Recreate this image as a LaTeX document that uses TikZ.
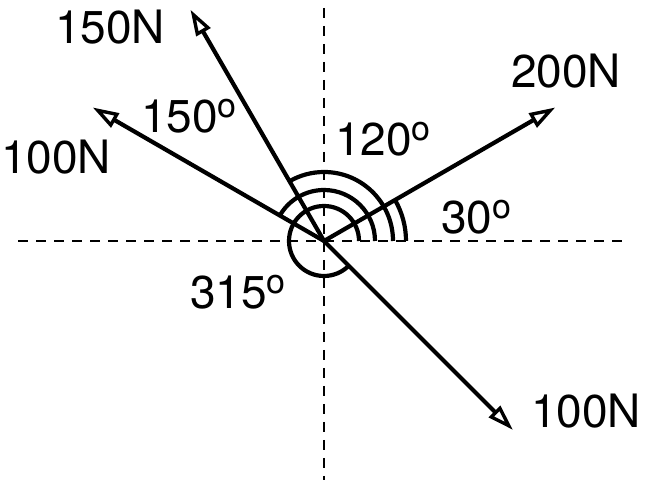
\documentclass[tikz,border=0pt]{standalone}
\usepackage{fontspec}
\setmainfont{TeX Gyre Heros}
\usetikzlibrary{arrows.meta,calc}
\newcommand\dgo{\raisebox{15pt}{\fontsize{34}{34}\selectfont o}}
\tikzset{
  force/.style={line width=4.2pt,-{Triangle[open,fill=white,length=26pt,width=16pt,line width=3.4pt]}},
  anglearc/.style={line width=4.2pt},
  axis/.style={line width=1.3pt,dash pattern=on 10pt off 8pt},
  lbl/.style={anchor=west,inner sep=0pt,font=\fontsize{46}{50}\selectfont}
}
\begin{document}
\begin{tikzpicture}[x=1pt,y=1pt]
\useasboundingbox (0,0) rectangle (645,484);
\coordinate (O) at (324,243);
\coordinate (hl) at (18,243);
\coordinate (hr) at (625,243);
\coordinate (vt) at (324,476);
\coordinate (vb) at (324,4);
\draw[axis] (hl) -- (hr);
\draw[axis] (vt) -- (vb);
\coordinate (t200) at ($(O)+(30:267)$);
\coordinate (t150) at ($(O)+(120:267)$);
\coordinate (t100a) at ($(O)+(150:267)$);
\coordinate (t100b) at ($(O)+(-45:267)$);
\draw[force] (O) -- (t200);
\draw[force] (O) -- (t150);
\draw[force] (O) -- (t100a);
\draw[force] (O) -- (t100b);
\draw[anglearc] ($(O)+(35,0)$) arc[start angle=0,end angle=315,radius=35];
\draw[anglearc] ($(O)+(51,0)$) arc[start angle=0,end angle=150,radius=51];
\draw[anglearc] ($(O)+(69,0)$) arc[start angle=0,end angle=120,radius=69];
\draw[anglearc] ($(O)+(82,0)$) arc[start angle=0,end angle=30,radius=82];
\node[lbl] (l150N) at (55,457) {150N};
\node[lbl] (l100Na) at (1,327) {100N};
\node[lbl] (l150d) at (141,368) {150\dgo};
\node[lbl] (l120d) at (335,345) {120\dgo};
\node[lbl] (l30d) at (441,267) {30\dgo};
\node[lbl] (l315d) at (190,192) {315\dgo};
\node[lbl] (l200N) at (511,413) {200N};
\node[lbl] (l100Nb) at (531,73) {100N};
\end{tikzpicture}
\end{document}
